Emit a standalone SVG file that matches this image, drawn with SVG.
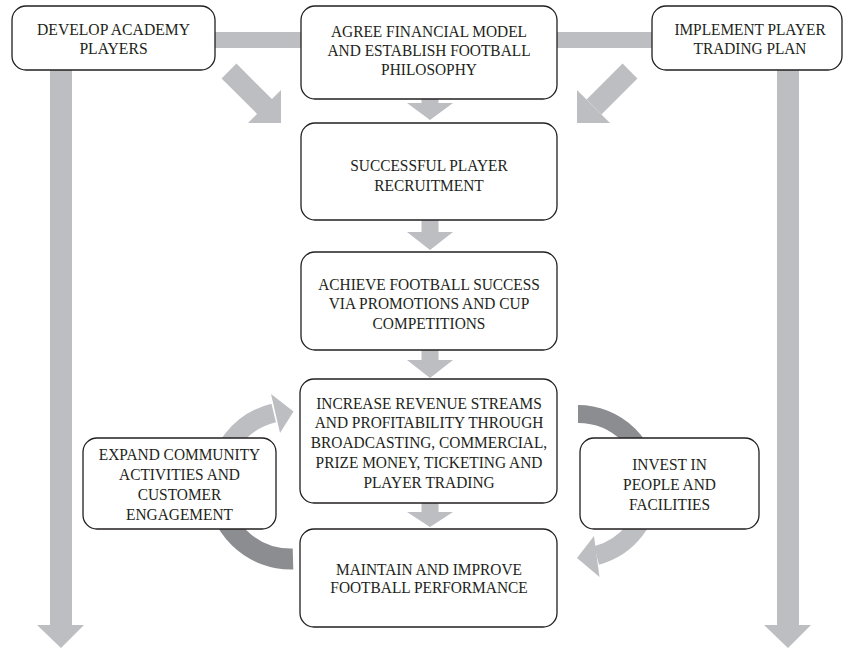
<svg xmlns="http://www.w3.org/2000/svg" width="844" height="649" viewBox="0 0 844 649">
<style>
.box{fill:#fff;stroke:#231f20;stroke-width:1.3}
.lt{fill:#bdbec1}
.ltS{fill:none;stroke:#bdbec1;stroke-linecap:butt}
.dkS{fill:none;stroke:#8c8d91;stroke-linecap:butt}
text{font-family:"Liberation Serif","Times New Roman",serif;font-size:17.5px;fill:#231f20;text-anchor:middle}
text.sm{font-size:16.5px}
</style>
<rect width="844" height="649" fill="#fff"/>
<g id="connectors">
<rect class="lt" x="214" y="32" width="88" height="16"/>
<rect class="lt" x="556" y="32" width="97" height="16"/>
<polygon class="lt" points="50,70 72,70 72,625 84,625 61,648 37,625 50,625"/>
<polygon class="lt" points="777,70 799,70 799,625 811,625 788,648 764,625 777,625"/>
<line class="ltS" x1="229" y1="71" x2="265" y2="107" stroke-width="21"/>
<polygon class="lt" points="281,90 281,123 248,123"/>
<line class="ltS" x1="630" y1="71" x2="594" y2="107" stroke-width="21"/>
<polygon class="lt" points="577,90 577,123 610,123"/>
<polygon class="lt" points="421.5,99 438.5,99 438.5,103 453,103 430,120 407,103 421.5,103"/>
<polygon class="lt" points="421.5,220 438.5,220 438.5,232 453,232 430,250 407,232 421.5,232"/>
<polygon class="lt" points="421.5,350 438.5,350 438.5,360 453,360 430,378 407,360 421.5,360"/>
<polygon class="lt" points="421.5,503 438.5,503 438.5,512 453,512 430,527 407,512 421.5,512"/>
<path class="ltS" d="M217 485 A74 74 0 0 1 273.7 413" stroke-width="19"/>
<polygon class="lt" points="271,394 280,433 293.5,411.5"/>
<path class="dkS" d="M217 485 A74 74 0 0 0 293 559" stroke-width="21"/>
<path class="dkS" d="M578 414 A72 72 0 0 1 650 486" stroke-width="18"/>
<path class="ltS" d="M650 486 A72 72 0 0 1 596.6 555.5" stroke-width="19"/>
<polygon class="lt" points="594,536 599.5,577 577,558"/>
</g>
<g id="n1">
<rect class="box" x="12" y="6" width="203" height="64" rx="14"/>
<text class="sm" transform="translate(113.5 0) scale(0.95 1)"><tspan x="0" y="35">DEVELOP ACADEMY</tspan><tspan x="0" y="54">PLAYERS</tspan></text>
</g>
<g id="n2">
<rect class="box" x="301" y="6" width="256" height="93" rx="14"/>
<text transform="translate(429 0) scale(0.88 1)"><tspan x="0" y="37">AGREE FINANCIAL MODEL</tspan><tspan x="0" y="56">AND ESTABLISH FOOTBALL</tspan><tspan x="0" y="75">PHILOSOPHY</tspan></text>
</g>
<g id="n3">
<rect class="box" x="652" y="6" width="190" height="64" rx="14"/>
<text class="sm" transform="translate(750 0) scale(0.93 1)"><tspan x="0" y="35">IMPLEMENT PLAYER</tspan><tspan x="0" y="54">TRADING PLAN</tspan></text>
</g>
<g id="n4">
<rect class="box" x="301" y="123" width="256" height="97" rx="14"/>
<text transform="translate(429 0) scale(0.88 1)"><tspan x="0" y="171.5">SUCCESSFUL PLAYER</tspan><tspan x="0" y="191">RECRUITMENT</tspan></text>
</g>
<g id="n5">
<rect class="box" x="301" y="252" width="256" height="98" rx="14"/>
<text transform="translate(429 0) scale(0.88 1)"><tspan x="0" y="290">ACHIEVE FOOTBALL SUCCESS</tspan><tspan x="0" y="309.5">VIA PROMOTIONS AND CUP</tspan><tspan x="0" y="329">COMPETITIONS</tspan></text>
</g>
<g id="n6">
<rect class="box" x="300" y="379" width="257" height="124" rx="14"/>
<text transform="translate(429 0) scale(0.88 1)"><tspan x="0" y="409">INCREASE REVENUE STREAMS</tspan><tspan x="0" y="428.5">AND PROFITABILITY THROUGH</tspan><tspan x="0" y="448.3">BROADCASTING, COMMERCIAL,</tspan><tspan x="0" y="468.3">PRIZE MONEY, TICKETING AND</tspan><tspan x="0" y="488.3">PLAYER TRADING</tspan></text>
</g>
<g id="n7">
<rect class="box" x="300" y="529" width="257" height="98" rx="14"/>
<text transform="translate(429 0) scale(0.88 1)"><tspan x="0" y="575">MAINTAIN AND IMPROVE</tspan><tspan x="0" y="593.5">FOOTBALL PERFORMANCE</tspan></text>
</g>
<g id="n8">
<rect class="box" x="83" y="438" width="193" height="91" rx="14"/>
<text transform="translate(179.5 0) scale(0.88 1)"><tspan x="0" y="460">EXPAND COMMUNITY</tspan><tspan x="0" y="480">ACTIVITIES AND</tspan><tspan x="0" y="500">CUSTOMER</tspan><tspan x="0" y="520">ENGAGEMENT</tspan></text>
</g>
<g id="n9">
<rect class="box" x="580" y="438" width="179" height="91" rx="14"/>
<text transform="translate(669.5 0) scale(0.88 1)"><tspan x="0" y="470">INVEST IN</tspan><tspan x="0" y="490">PEOPLE AND</tspan><tspan x="0" y="510">FACILITIES</tspan></text>
</g>
</svg>
